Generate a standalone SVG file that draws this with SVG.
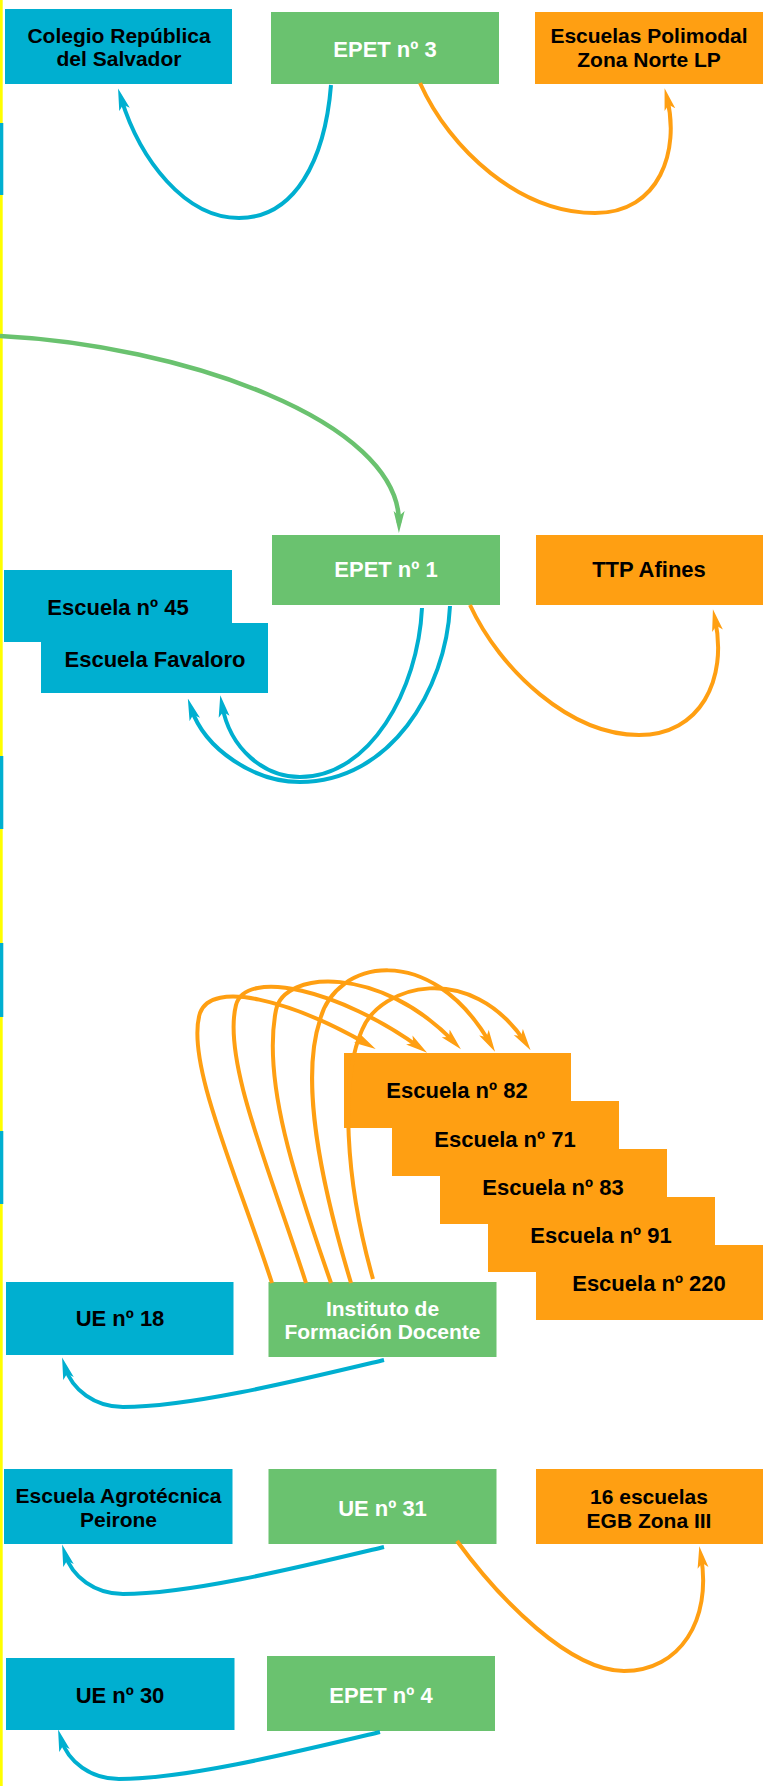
<svg xmlns="http://www.w3.org/2000/svg" width="763" height="1786" viewBox="0 0 763 1786">
<style>
.b{fill:#00AFD0}.g{fill:#6AC26F}.o{fill:#FF9F12}.y{fill:#FFFF00}
.t{font-family:"Liberation Sans",Arial,sans-serif;font-size:22px;font-weight:bold;fill:#000;text-anchor:middle}
.w{font-family:"Liberation Sans",Arial,sans-serif;font-size:22px;font-weight:bold;fill:#fff;text-anchor:middle}
.s{font-size:21px}
.c{fill:none;stroke-width:4;stroke-linecap:butt}
.cb{stroke:#00AFD0;marker-end:url(#ab)}
.cg{stroke:#6AC26F;stroke-width:4.5;marker-end:url(#ag)}
.co{stroke:#FF9F12;marker-end:url(#ao)}
</style>
<defs>
<marker id="ab" markerUnits="userSpaceOnUse" viewBox="0 0 22 12" markerWidth="22" markerHeight="12" refX="12" refY="6" orient="auto"><path d="M0,0.5 L22,6 L0,11.5 L5,6 Z" fill="#00AFD0"/></marker>
<marker id="ag" markerUnits="userSpaceOnUse" viewBox="0 0 22 12" markerWidth="22" markerHeight="12" refX="12" refY="6" orient="auto"><path d="M0,0.5 L22,6 L0,11.5 L5,6 Z" fill="#6AC26F"/></marker>
<marker id="ao" markerUnits="userSpaceOnUse" viewBox="0 0 22 12" markerWidth="22" markerHeight="12" refX="12" refY="6" orient="auto"><path d="M0,0.5 L22,6 L0,11.5 L5,6 Z" fill="#FF9F12"/></marker>
</defs>
<rect width="763" height="1786" fill="#fff"/>
<g id="edge">
<rect class="y" x="0" y="0" width="2.7" height="1786"/>
<rect class="b" x="0" y="123" width="3.3" height="72"/>
<rect class="b" x="0" y="756" width="3.3" height="73"/>
<rect class="b" x="0" y="943" width="3.3" height="74"/>
<rect class="b" x="0" y="1131" width="3.3" height="73"/>
</g>
<g id="colegio"><rect class="b" x="5" y="9" width="227" height="75"/><text class="t s" x="119" y="42.75">Colegio República</text><text class="t s" x="119" y="66.25">del Salvador</text></g>
<g id="epet3"><rect class="g" x="271" y="12" width="228" height="72"/><text class="w" x="385" y="57">EPET nº 3</text></g>
<g id="polimodal"><rect class="o" x="535" y="12" width="228" height="72"/><text class="t s" x="649" y="43.25">Escuelas Polimodal</text><text class="t s" x="649" y="66.75">Zona Norte LP</text></g>
<g id="epet1"><rect class="g" x="272" y="535" width="228" height="70"/><text class="w" x="386" y="577">EPET nº 1</text></g>
<g id="ttp"><rect class="o" x="536" y="535" width="227" height="70"/><text class="t" x="649" y="577">TTP Afines</text></g>
<g id="esc45"><rect class="b" x="4" y="570" width="228" height="72"/><text class="t" x="118" y="615">Escuela nº 45</text></g>
<g id="favaloro"><rect class="b" x="41" y="623" width="227" height="70"/><text class="t" x="155" y="667">Escuela Favaloro</text></g>
<g id="esc82"><rect class="o" x="344" y="1053" width="227" height="75"/><text class="t" x="457" y="1098">Escuela nº 82</text></g>
<g id="esc71"><rect class="o" x="392" y="1101" width="227" height="75"/><text class="t" x="505" y="1147">Escuela nº 71</text></g>
<g id="esc83"><rect class="o" x="440" y="1149" width="227" height="75"/><text class="t" x="553" y="1195">Escuela nº 83</text></g>
<g id="esc91"><rect class="o" x="488" y="1197" width="227" height="75"/><text class="t" x="601" y="1243">Escuela nº 91</text></g>
<g id="esc220"><rect class="o" x="536" y="1245" width="227" height="75"/><text class="t" x="649" y="1291">Escuela nº 220</text></g>
<g id="instituto"><rect class="g" x="268.5" y="1282" width="228" height="75"/><text class="w s" x="382.5" y="1315.75">Instituto de</text><text class="w s" x="382.5" y="1339.25">Formación Docente</text></g>
<g id="ue18"><rect class="b" x="6" y="1282" width="227.5" height="73"/><text class="t" x="120" y="1326">UE nº 18</text></g>
<g id="agrotecnica"><rect class="b" x="4" y="1469" width="228.5" height="75"/><text class="t s" x="118.5" y="1503.25">Escuela Agrotécnica</text><text class="t s" x="118.5" y="1526.75">Peirone</text></g>
<g id="ue31"><rect class="g" x="268.5" y="1469" width="228" height="75"/><text class="w" x="382.5" y="1516">UE nº 31</text></g>
<g id="egb"><rect class="o" x="536" y="1469" width="227" height="75"/><text class="t s" x="649" y="1504.25">16 escuelas</text><text class="t s" x="649" y="1527.75">EGB Zona III</text></g>
<g id="ue30"><rect class="b" x="6" y="1658" width="228.5" height="72"/><text class="t" x="120" y="1703">UE nº 30</text></g>
<g id="epet4"><rect class="g" x="267" y="1656" width="228" height="75"/><text class="w" x="381" y="1703">EPET nº 4</text></g>
<g id="connectors">
<path class="c cb" d="M331,85 C325,160 295,218 239,218 C185,218 140,160 121,98"/>
<path class="c co" d="M420,83 C450,150 520,213 595,213 C660,213 680,150 667,98"/>
<path class="c cg" d="M0,336 C180,345 400,420 399,523"/>
<path class="c cb" d="M450,606 C446,690 390,782 300,782 C255,782 205,750 191,708"/>
<path class="c cb" d="M422,608 C418,690 370,777 300,777 C265,777 230,750 222,705"/>
<path class="c co" d="M470,605 C500,670 570,735 639,735 C700,735 728,680 715,619"/>
<path class="c co" d="M272,1283 C235,1170 185,1060 200,1013 C212,980 290,1000 367,1044"/>
<path class="c co" d="M306,1283 C270,1170 222,1060 236,1005 C246,968 340,990 419,1047"/>
<path class="c co" d="M331,1283 C295,1180 262,1080 276,1010 C284,970 380,965 454,1042"/>
<path class="c co" d="M351,1283 C320,1180 300,1080 320,1020 C335,960 430,940 490,1043"/>
<path class="c co" d="M373,1279 C345,1180 340,1080 362,1030 C380,985 470,960 525,1042"/>
<path class="c cb" d="M384,1360 C300,1380 190,1407 123,1407 C95,1407 72,1390 65,1367"/>
<path class="c cb" d="M384,1547 C300,1567 190,1594 123,1594 C95,1594 72,1577 65,1554"/>
<path class="c co" d="M457,1541 C500,1600 570,1671 624,1671 C680,1671 712,1620 701,1556"/>
<path class="c cb" d="M380,1732 C296,1752 186,1779 119,1779 C91,1779 68,1762 61,1739"/>
</g>
</svg>
